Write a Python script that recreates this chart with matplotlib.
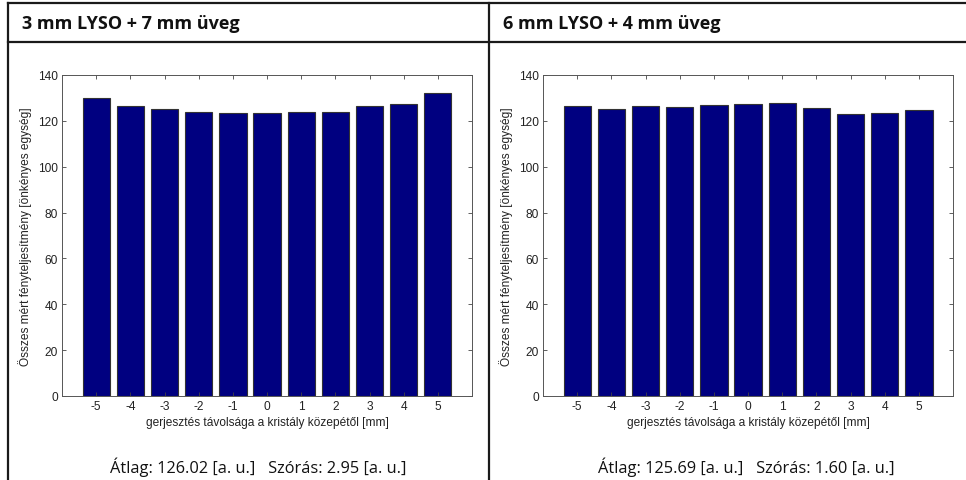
import matplotlib.pyplot as plt
from matplotlib.lines import Line2D

plt.rcParams['axes.unicode_minus'] = False

positions = [-5, -4, -3, -2, -1, 0, 1, 2, 3, 4, 5]
light_3mm = [129.85, 126.65, 125.15, 123.95, 123.45, 123.35, 123.95, 123.95, 126.65, 127.55, 131.95]
light_6mm = [126.6, 125.0, 126.6, 125.9, 127.0, 127.5, 127.8, 125.4, 123.0, 123.4, 124.6]
titles = ["3 mm LYSO + 7 mm üveg", "6 mm LYSO + 4 mm üveg"]
stats = ["Átlag: 126.02 [a. u.]   Szórás: 2.95 [a. u.]",
         "Átlag: 125.69 [a. u.]   Szórás: 1.60 [a. u.]"]
ylabel = "Összes mért fényteljesítmény [önkényes egység]"
xlabel = "gerjesztés távolsága a kristály közepétől [mm]"

W, H = 966, 481
fig = plt.figure(figsize=(W / 100, H / 100), dpi=100)

def fx(x):
    return x / W

def fy(y):
    return 1 - y / H

# table frame
frame = dict(color="#1a1a1a", lw=1.6, transform=fig.transFigure)
fig.add_artist(Line2D([fx(8), 1], [fy(4), fy(4)], **frame))
fig.add_artist(Line2D([fx(8), 1], [fy(43), fy(43)], **frame))
fig.add_artist(Line2D([fx(8), fx(8)], [fy(4), 0], **frame))
fig.add_artist(Line2D([fx(489), fx(489)], [fy(4), 0], **frame))

data = [light_3mm, light_6mm]
lefts = [62, 543]
title_x = [22, 503]
stats_x = [258, 746]
fs = 8.6

for i in range(2):
    ax = fig.add_axes([fx(lefts[i]), fy(397), fx(410), 321 / H])
    ax.bar(positions, data[i], width=0.8, color="#000080", edgecolor="#333333", linewidth=0.8)
    ax.set_xlim(-6, 6)
    ax.set_ylim(0, 140)
    ax.set_xticks(positions)
    ax.set_yticks(range(0, 141, 20))
    ax.tick_params(direction="in", top=True, right=True, length=3, width=0.6,
                   labelsize=fs, labelcolor="#222222", color="#444444", pad=3)
    for s in ax.spines.values():
        s.set_color("#555555")
        s.set_linewidth(0.7)
    ax.set_xlabel(xlabel, fontsize=fs, color="#222222", labelpad=3, family="Liberation Sans")
    ax.set_ylabel(ylabel, fontsize=fs, color="#222222", labelpad=4, family="Liberation Sans")
    for lab in ax.get_xticklabels() + ax.get_yticklabels():
        lab.set_family("Liberation Sans")

    fig.text(fx(title_x[i]), fy(24), titles[i], fontsize=13, fontweight="bold",
             family="Open Sans", ha="left", va="center", color="#111111")
    fig.text(fx(stats_x[i]), fy(467), stats[i], fontsize=11.8, family="Open Sans",
             ha="center", va="center", color="#111111")

fig.savefig("out.png", dpi=100)
